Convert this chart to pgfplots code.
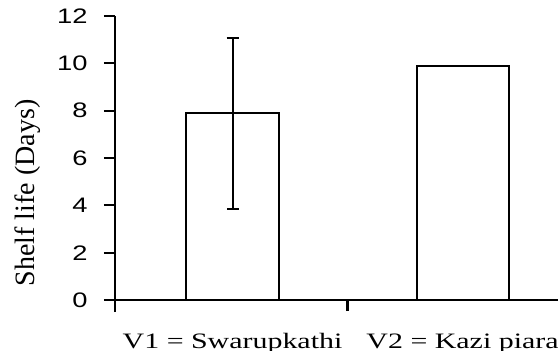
\documentclass[border=0pt]{standalone}
\usepackage{pgfplots}
\pgfplotsset{compat=1.18}
\usepackage{graphicx}
\usepackage{fontspec}
\setmainfont{Liberation Serif}
\newfontfamily\arial{Liberation Sans}
\begin{document}
\begin{tikzpicture}
\begin{axis}[
  scale only axis, width=221.5pt, height=142pt,
  xmin=0.489, xmax=2.415, ymin=0, ymax=12,
  axis x line=bottom, axis y line=left,
  axis line style={-, line width=1.2pt, black},
  y axis line style={shorten <=-6pt},
  ytick={0,2,4,6,8,10,12},
  tick align=outside, major tick length=5.5pt,
  tick style={line width=1.1pt, black},
  /pgf/number format/assume math mode=true,
  yticklabel={\scalebox{1.3}[1]{\pgfmathprintnumber{\tick}}},
  yticklabel style={font=\arial\fontsize{10.5}{12}\selectfont, anchor=east, inner sep=0pt, xshift=-8pt},
  xtick={1.5}, xticklabels={},
  extra x ticks={1,2},
  extra x tick labels={\scalebox{1.36}[1]{V1 = Swarupkathi}, \scalebox{1.36}[1]{V2 = Kazi piara}},
  extra x tick style={major tick length=0pt, xticklabel style={font=\fontsize{11}{13}\selectfont, anchor=base, inner sep=0pt, yshift=-24pt}},
  ylabel={Shelf life (Days)},
  ylabel style={font=\fontsize{14}{16}\selectfont, at={(axis description cs:-0.167,0.377)}, anchor=south, rotate=0, inner sep=0pt},
  clip=false,
]
\addplot[ybar, bar width=0.404, bar shift=0pt, fill=white, draw=black, line width=1pt,
  error bars/.cd, y dir=both, y explicit,
  error bar style={line width=1pt, black},
  error mark options={rotate=90, mark size=3pt, line width=1pt, black}]
  coordinates {(1,7.9) += (0,3.18) -= (0,4.06)};
\addplot[ybar, bar width=0.4, bar shift=0pt, fill=white, draw=black, line width=1pt]
  coordinates {(2,9.9)};
\end{axis}
\pgfresetboundingbox
\path[use as bounding box] ([xshift=-57.5pt,yshift=-25pt]current axis.south west) rectangle ([xshift=221.5pt,yshift=150pt]current axis.south west);
\end{tikzpicture}
\end{document}
